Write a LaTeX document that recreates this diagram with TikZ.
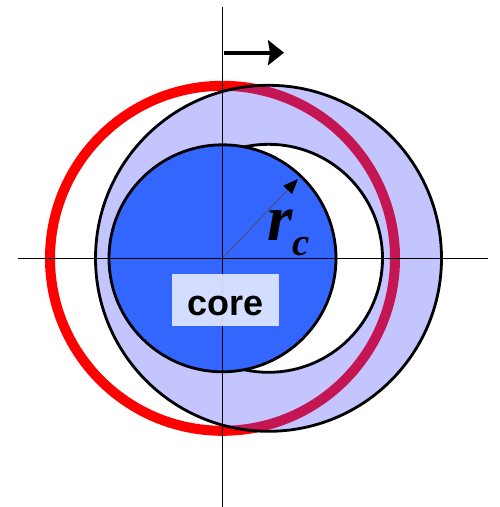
\documentclass[tikz,border=0pt]{standalone}
\usepackage{fontspec}
\setmainfont{Liberation Serif}
\setsansfont{Liberation Sans}
\usetikzlibrary{arrows.meta}
\usetikzlibrary{positioning}

\definecolor{coreblue}{RGB}{51,102,255}
\definecolor{shellblue}{RGB}{70,70,255}
\definecolor{boxfill}{RGB}{228,234,255}

\begin{document}
\begin{tikzpicture}[x=0.02cm, y=-0.02cm,
		outline/.style={black, line width=1.6pt},
		axis/.style={black, line width=0.7pt}]

		\def\cx{222.5} \def\cy{258.3} % original centre
		\def\sx{268.5}                  % shifted centre of the shell
		\def\Rshell{173} \def\Rcore{114}

		\useasboundingbox (0,0) rectangle (500,507);

		\coordinate (O) at (\cx,\cy);
		\coordinate (S) at (\sx,\cy);

		% old position of the shell
		\draw[red, line width=5.7pt] (O) circle (172.5);

		% shell with its hole, moved to the right
		\fill[shellblue, fill opacity=0.32] (S) circle (\Rshell);
		\draw[outline] (S) circle (\Rshell);
		\draw[outline, fill=white] (S) circle (\Rcore);

		% core stays in place
		\draw[outline, fill=coreblue] (O) circle (113.5);

		% Axes
		\coordinate (xl) at (18,\cy);  \coordinate (xr) at (488,\cy);
		\coordinate (yt) at (\cx,7);   \coordinate (yb) at (\cx,507);
		\draw[axis] (xl) -- (xr);
		\draw[axis] (yt) -- (yb);

		% radius of the core
		\coordinate (rtip) at (298,179);
		\draw[black!70, line width=0.4pt, -{Triangle[length=0.3cm,width=0.24cm,black]}] (O) -- (rtip);
		\node[anchor=base west, inner sep=0pt] (rc) at (267,240)
			{\fontsize{37}{37}\selectfont\bfseries\itshape r\raisebox{-0.3cm}{\fontsize{22}{22}\selectfont c}};

		% direction of the displacement
		\coordinate (ma) at (224,52.7);
		\coordinate (mb) at (284,52.7);
		\draw[line width=2.3pt, -{Stealth[length=0.32cm,width=0.5cm,inset=0.04cm]}] (ma) -- (mb);

		% label
		\node[fill=boxfill, fill opacity=0.9, text opacity=1, inner sep=0pt,
			minimum width=2.14cm, minimum height=1.04cm, text height=0.6cm, text depth=0pt,
			font=\sffamily\bfseries\fontsize{20.5}{20.5}\selectfont] (core) at (225.5,300) {core};

	\end{tikzpicture}
\end{document}
